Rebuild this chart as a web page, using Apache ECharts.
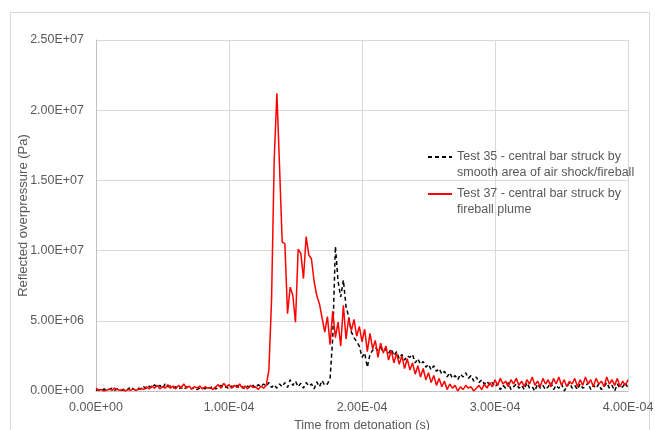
<!DOCTYPE html>
<html>
<head>
<meta charset="utf-8">
<script src="https://cdn.jsdelivr.net/npm/echarts@6/dist/echarts.min.js"></script>
<style>
  html, body { margin: 0; padding: 0; background: #fff; }
  #chart { width: 655px; height: 430px; }
</style>
</head>
<body>
<div id="chart"></div>
<script>
// sample interval of the pressure gauges, in microseconds
const sampleStepUs = 2;

// Test 35 - reflected overpressure, MPa (one value every 2 us, 0 .. 400 us)
const test35 = [
  0.05, 0.1, 0.0, 0.15, 0.05, 0.1, 0.2, 0.05, 0.15, 0.1,
  0.05, 0.2, 0.1, 0.3, 0.15, 0.05, 0.2, 0.1, 0.3, 0.15,
  0.35, 0.2, 0.45, 0.25, 0.4, 0.2, 0.5, 0.3, 0.35, 0.2,
  0.3, 0.15, 0.25, 0.1, 0.3, 0.2, 0.15, 0.25, 0.1, 0.2,
  0.25, 0.15, 0.3, 0.2, 0.35, 0.15, 0.25, 0.4, 0.2, 0.3,
  0.15, 0.35, 0.25, 0.4, 0.2, 0.3, 0.15, 0.35, 0.25, 0.4,
  0.2, 0.45, 0.3, 0.5, 0.35, 0.6, 0.25, 0.45, 0.2, 0.5,
  0.3, 0.6, 0.25, 0.8, 0.4, 0.7, 0.3, 0.55, 0.2, 0.6,
  0.35, 0.5, 0.15, 0.65, 0.3, 0.75, 0.4, 0.5, 0.9, 3.8,
  10.3, 7.8, 6.7, 7.9, 6.0, 5.3, 4.2, 3.8, 3.5, 3.2,
  2.4, 2.7, 1.7, 2.6, 2.9, 3.1, 2.9, 3.1, 2.8, 3.0,
  2.7, 3.0, 2.5, 2.8, 2.3, 2.6, 2.2, 2.5, 2.4, 2.6,
  2.0, 2.3, 1.9, 2.1, 1.7, 1.9, 1.5, 1.8, 1.4, 1.6,
  1.2, 1.4, 1.0, 1.3, 0.9, 1.1, 0.8, 1.2, 1.0, 1.3,
  0.9, 1.1, 0.7, 1.0, 0.6, 0.8, 0.5, 0.7, 0.4, 0.6,
  0.3, 0.5, 0.1, 0.4, 0.2, 0.6, 0.1, 0.3, 0.5, 0.2,
  0.4, 0.1, 0.6, 0.2, 0.3, 0.0, 0.5, 0.2, 0.4, 0.1,
  0.3, 0.6, 0.1, 0.4, 0.2, 0.5, 0.0, 0.3, 0.6, 0.2,
  0.4, 0.1, 0.5, 0.2, 0.3, 0.6, 0.1, 0.4, 0.2, 0.5,
  0.1, 0.3, 0.6, 0.2, 0.4, 0.0, 0.5, 0.2, 0.3, 0.6,
  0.2
];

// Test 37 - reflected overpressure, MPa (one value every 2 us, 0 .. 400 us)
const test37 = [
  0.2, 0.05, 0.1, 0.0, 0.05, 0.15, 0.05, 0.2, 0.1, 0.05,
  0.1, 0.0, 0.1, 0.05, 0.15, 0.05, 0.1, 0.2, 0.1, 0.3,
  0.15, 0.35, 0.2, 0.4, 0.15, 0.3, 0.2, 0.45, 0.2, 0.35,
  0.15, 0.4, 0.25, 0.5, 0.2, 0.35, 0.15, 0.3, 0.2, 0.35,
  0.15, 0.3, 0.2, 0.25, 0.1, 0.3, 0.45, 0.2, 0.55, 0.3,
  0.45, 0.2, 0.4, 0.25, 0.5, 0.2, 0.35, 0.15, 0.4, 0.25,
  0.3, 0.1, 0.35, 0.2, 0.4, 1.5, 6.5, 16.5, 21.2, 16.0,
  10.6, 10.5, 5.5, 7.4, 6.8, 4.9, 10.1, 9.8, 8.0, 11.0,
  9.7, 9.4, 7.8, 6.8, 6.2, 5.2, 4.2, 5.3, 3.3, 5.7,
  3.8, 4.9, 3.2, 6.1, 3.7, 5.2, 4.3, 5.1, 3.9, 4.6,
  3.5, 4.4, 2.8, 4.1, 3.0, 3.6, 2.4, 3.4, 2.7, 3.2,
  2.2, 2.9, 2.0, 2.7, 1.9, 2.5, 1.6, 2.3, 1.5, 2.0,
  1.2, 1.8, 1.0, 1.6, 0.8, 1.3, 0.6, 1.1, 0.4, 0.9,
  0.3, 0.7, 0.1, 0.5, 0.2, 0.4, 0.0, 0.3, 0.1, 0.4,
  0.2, 0.3, 0.0, 0.2, 0.4, 0.1, 0.5, 0.2, 0.6, 0.3,
  0.8, 0.4, 0.9, 0.5, 0.7, 0.3, 0.8, 0.5, 0.9, 0.4,
  0.7, 0.3, 0.8, 0.5, 1.0, 0.4, 0.7, 0.3, 0.9, 0.5,
  0.8, 0.3, 0.9, 0.5, 1.0, 0.4, 0.8, 0.3, 0.7, 0.5,
  0.9, 0.3, 0.8, 0.4, 1.0, 0.5, 0.8, 0.3, 0.9, 0.5,
  0.7, 0.3, 1.0, 0.5, 0.8, 0.4, 0.9, 0.3, 0.7, 0.4,
  0.8
];

const seriesNames = [
  "Test 35 - central bar struck by\nsmooth area of air shock/fireball",
  "Test 37 - central bar struck by\nfireball plume"
];

// axis ranges (s, Pa)
const xMax = 4e-4, xStep = 1e-4;
const yMax = 2.5e7, yStep = 5e6;

// MPa samples -> [seconds, Pa]
function toPoints(arr) {
  return arr.map((v, i) => [i * sampleStepUs * 1e-6, v * 1e6]);
}

// Excel style scientific label, e.g. 2.50E+07
function sci(v) {
  let s = Number(v).toExponential(2).toUpperCase();
  return s.replace(/E([+-])(\d+)$/, (m, sign, d) => "E" + sign + (d.length < 2 ? "0" + d : d));
}

const font = "Liberation Sans, Arial, sans-serif";
const grey = "#595959";

let chart = echarts.init(document.getElementById("chart"));
let option = {
  animation: false,
  backgroundColor: "#fff",
  graphic: [
    {
      type: "rect",
      left: 8, top: 10,
      shape: { width: 639, height: 430 },
      style: { fill: "none", stroke: "#d9d9d9", lineWidth: 1 },
      silent: true
    }
  ],
  grid: { left: 96, right: 27, top: 40, bottom: 39, outerBoundsMode: "none" },
  legend: {
    orient: "vertical",
    left: 422,
    top: 128,
    itemWidth: 24,
    itemHeight: 10,
    itemGap: -11,
    data: seriesNames,
    itemStyle: { opacity: 0 },
    // empty first line so the sample line sits on the first text line
    formatter: name => "\n" + name,
    textStyle: {
      color: grey,
      fontFamily: font,
      fontSize: 12.5,
      lineHeight: 16
    }
  },
  xAxis: {
    type: "value",
    min: 0,
    max: xMax,
    interval: xStep,
    name: "Time from detonation (s)",
    nameLocation: "middle",
    nameGap: 28,
    nameMoveOverlap: false,
    nameTextStyle: { color: grey, fontFamily: font, fontSize: 12.5 },
    axisLine: { show: true, lineStyle: { color: "#bfbfbf" } },
    axisTick: { show: false },
    axisLabel: { color: grey, fontFamily: font, fontSize: 12.5, margin: 10, formatter: sci },
    splitLine: { show: true, lineStyle: { color: "#d9d9d9" } }
  },
  yAxis: {
    type: "value",
    min: 0,
    max: yMax,
    interval: yStep,
    name: "Reflected overpressure (Pa)",
    nameLocation: "middle",
    nameGap: 66,
    nameMoveOverlap: false,
    nameTextStyle: { color: grey, fontFamily: font, fontSize: 13 },
    axisLine: { show: true, lineStyle: { color: "#bfbfbf" } },
    axisTick: { show: false },
    axisLabel: { color: grey, fontFamily: font, fontSize: 12.5, margin: 12, formatter: sci },
    splitLine: { show: true, lineStyle: { color: "#d9d9d9" } }
  },
  series: [
    {
      name: seriesNames[0],
      type: "line",
      showSymbol: false,
      symbol: "none",
      data: toPoints(test35),
      lineStyle: { color: "#000", width: 1.5, type: [4, 3] },
      itemStyle: { color: "#000" }
    },
    {
      name: seriesNames[1],
      type: "line",
      showSymbol: false,
      symbol: "none",
      data: toPoints(test37),
      lineStyle: { color: "#ff0000", width: 1.5 },
      itemStyle: { color: "#ff0000" }
    }
  ]
};
chart.setOption(option, true);
</script>
</body>
</html>
